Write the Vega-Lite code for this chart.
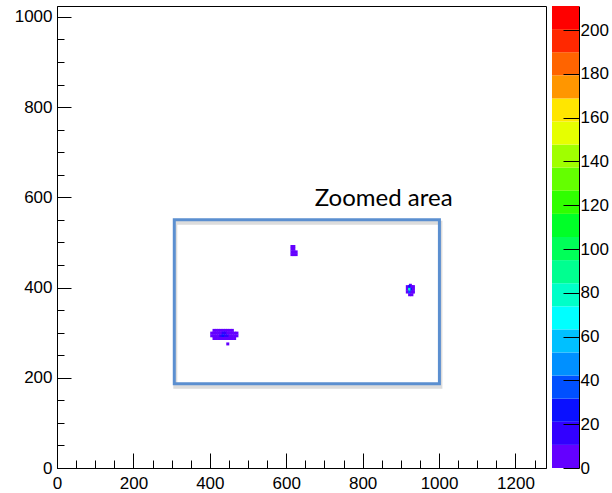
{
  "$schema": "https://vega.github.io/schema/vega-lite/v6.json",
  "padding": {"left": 6, "top": 5, "right": 0, "bottom": 0},
  "background": "white",
  "spacing": 5,
  "config": {
    "view": {"stroke": "black", "strokeWidth": 1},
    "axis": {"labelFont": "Liberation Sans", "labelFontSize": 17, "labelColor": "black", "tickColor": "black", "domainColor": "black", "grid": false, "title": null, "tickWidth": 1, "domainWidth": 1, "labelOverlap": false, "labelFlush": false, "zindex": 1}
  },
  "resolve": {"scale": {"x": "independent", "y": "independent", "color": "shared"}},
  "hconcat": [
    {
      "width": 489,
      "height": 462,
      "encoding": {
        "x": {"field": "x", "type": "quantitative", "scale": {"domain": [0, 1280], "nice": false, "zero": false},
          "axis": {"values": [0,50,100,150,200,250,300,350,400,450,500,550,600,650,700,750,800,850,900,950,1000,1050,1100,1150,1200,1250],
            "labelExpr": "datum.value % 200 === 0 ? format(datum.value, 'd') : ''",
            "tickSize": {"condition": {"test": "datum.value % 200 === 0", "value": -15}, "value": -8},
            "labelPadding": 22, "minExtent": 26, "maxExtent": 26}},
        "y": {"field": "y", "type": "quantitative", "scale": {"domain": [0, 1024], "nice": false, "zero": false},
          "axis": {"values": [0,50,100,150,200,250,300,350,400,450,500,550,600,650,700,750,800,850,900,950,1000],
            "labelExpr": "datum.value % 200 === 0 ? format(datum.value, 'd') : ''",
            "tickSize": {"condition": {"test": "datum.value % 200 === 0", "value": -14}, "value": -7},
            "labelPadding": 19, "minExtent": 50, "maxExtent": 50}}
      },
      "layer": [
        {
          "data": {"values": [
            {"x":411,"y":305,"v":5},{"x":417,"y":305,"v":5},{"x":423,"y":305,"v":5},{"x":429,"y":305,"v":5},{"x":435,"y":305,"v":5},{"x":441,"y":305,"v":5},{"x":447,"y":305,"v":5},{"x":453,"y":305,"v":5},{"x":459,"y":305,"v":5},
            {"x":405,"y":299,"v":5},{"x":411,"y":299,"v":5},{"x":417,"y":299,"v":5},{"x":423,"y":299,"v":5},{"x":429,"y":299,"v":5},{"x":435,"y":299,"v":15},{"x":441,"y":299,"v":15},{"x":447,"y":299,"v":5},{"x":453,"y":299,"v":5},{"x":459,"y":299,"v":5},{"x":465,"y":299,"v":5},{"x":471,"y":299,"v":5},
            {"x":405,"y":293,"v":5},{"x":411,"y":293,"v":5},{"x":417,"y":293,"v":5},{"x":423,"y":293,"v":5},{"x":429,"y":293,"v":15},{"x":435,"y":293,"v":25},{"x":441,"y":293,"v":15},{"x":447,"y":293,"v":15},{"x":453,"y":293,"v":5},{"x":459,"y":293,"v":5},{"x":465,"y":293,"v":5},{"x":471,"y":293,"v":5},
            {"x":411,"y":287,"v":5},{"x":417,"y":287,"v":5},{"x":423,"y":287,"v":5},{"x":429,"y":287,"v":5},{"x":435,"y":287,"v":5},{"x":441,"y":287,"v":5},{"x":447,"y":287,"v":5},{"x":453,"y":287,"v":5},{"x":459,"y":287,"v":5},{"x":465,"y":287,"v":5},
            {"x":447,"y":275,"v":3},
            {"x":615,"y":491,"v":5},{"x":620,"y":491,"v":5},{"x":615,"y":485,"v":5},{"x":620,"y":485,"v":6},{"x":615,"y":479,"v":5},{"x":620,"y":479,"v":8},{"x":626,"y":479,"v":5},{"x":615,"y":473,"v":5},{"x":620,"y":473,"v":5},{"x":626,"y":473,"v":5},
            {"x":925,"y":405,"v":6},
            {"x":917,"y":402,"v":5},{"x":923,"y":402,"v":25},{"x":929,"y":402,"v":8},{"x":933,"y":402,"v":5},
            {"x":917,"y":396,"v":5},{"x":923,"y":396,"v":80},{"x":929,"y":396,"v":30},{"x":933,"y":396,"v":5},
            {"x":917,"y":390,"v":5},{"x":923,"y":390,"v":35},{"x":929,"y":390,"v":8},{"x":933,"y":390,"v":5},
            {"x":923,"y":384,"v":5},{"x":929,"y":384,"v":5}
          ]},
          "mark": {"type": "square", "size": 9, "opacity": 1},
          "encoding": {
            "color": {"field": "v", "type": "quantitative", "legend": null,
              "scale": {"type": "threshold",
                "domain": [10.55, 21.1, 31.65, 42.2, 52.75, 63.3, 73.85, 84.4, 94.95, 105.5, 116.05, 126.6, 137.15, 147.7, 158.25, 168.8, 179.35, 189.9, 200.45],
                "range": ["#6400ff","#3200ff","#0a10ff","#0050ff","#0090ff","#00c0ff","#00ffff","#00ffc8","#00ff90","#00ff58","#00ff28","#30ff00","#64ff00","#a0ff00","#e6ff00","#ffe600","#ff9600","#ff6400","#ff2800","#ff0000"]}}
          }
        },
        {
          "data": {"values": [{"x": 307, "y": 187, "xe": 1001, "ye": 550}]},
          "mark": {"type": "rect", "filled": false, "stroke": "#9a9a9a", "strokeWidth": 4, "strokeOpacity": 0.35, "xOffset": 1, "yOffset": 3, "x2Offset": 1, "y2Offset": 3},
          "encoding": {"x2": {"field": "xe"}, "y2": {"field": "ye"}}
        },
        {
          "data": {"values": [{"x": 307, "y": 187, "xe": 1001, "ye": 550}]},
          "mark": {"type": "rect", "filled": false, "stroke": "#5b8fd0", "strokeWidth": 3},
          "encoding": {"x2": {"field": "xe"}, "y2": {"field": "ye"}}
        },
        {
          "data": {"values": [{"x": 855, "y": 581, "label": "Zoomed area"}]},
          "mark": {"type": "text", "font": "Lato", "fontSize": 24, "align": "center", "baseline": "alphabetic", "color": "black"},
          "encoding": {"text": {"field": "label"}}
        }
      ]
    },
    {
      "width": 27,
      "height": 462,
      "view": {"stroke": null},
      "data": {"values": [
        {"lo": 0, "hi": 10.55},{"lo": 10.55, "hi": 21.1},{"lo": 21.1, "hi": 31.65},{"lo": 31.65, "hi": 42.2},{"lo": 42.2, "hi": 52.75},
        {"lo": 52.75, "hi": 63.3},{"lo": 63.3, "hi": 73.85},{"lo": 73.85, "hi": 84.4},{"lo": 84.4, "hi": 94.95},{"lo": 94.95, "hi": 105.5},
        {"lo": 105.5, "hi": 116.05},{"lo": 116.05, "hi": 126.6},{"lo": 126.6, "hi": 137.15},{"lo": 137.15, "hi": 147.7},{"lo": 147.7, "hi": 158.25},
        {"lo": 158.25, "hi": 168.8},{"lo": 168.8, "hi": 179.35},{"lo": 179.35, "hi": 189.9},{"lo": 189.9, "hi": 200.45},{"lo": 200.45, "hi": 211}
      ]},
      "mark": {"type": "rect"},
      "encoding": {
        "y": {"field": "lo", "type": "quantitative", "scale": {"domain": [0, 211], "nice": false, "zero": false},
          "axis": {"orient": "right", "values": [0,20,40,60,80,100,120,140,160,180,200], "tickSize": -16, "labelPadding": 17, "zindex": 1}},
        "y2": {"field": "hi"},
        "color": {"field": "lo", "type": "quantitative", "legend": null,
          "scale": {"type": "threshold",
            "domain": [10.55, 21.1, 31.65, 42.2, 52.75, 63.3, 73.85, 84.4, 94.95, 105.5, 116.05, 126.6, 137.15, 147.7, 158.25, 168.8, 179.35, 189.9, 200.45],
            "range": ["#6400ff","#3200ff","#0a10ff","#0050ff","#0090ff","#00c0ff","#00ffff","#00ffc8","#00ff90","#00ff58","#00ff28","#30ff00","#64ff00","#a0ff00","#e6ff00","#ffe600","#ff9600","#ff6400","#ff2800","#ff0000"]}}
      }
    }
  ]
}
